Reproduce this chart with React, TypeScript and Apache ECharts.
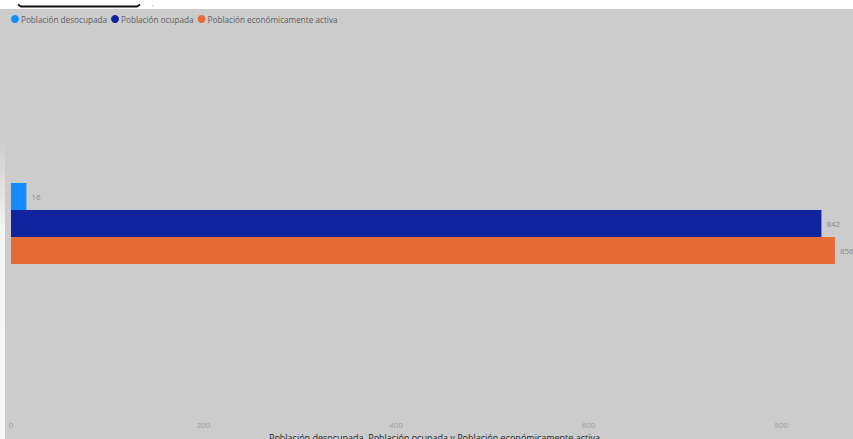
import React, { useEffect, useRef } from "react";
import * as echarts from "echarts";

const categories = ["Total"];
const seriesNames = ["Población desocupada", "Población ocupada", "Población económicamente activa"];
const desocupada = [16];
const ocupada = [842];
const activa = [856];
const seriesColors = ["#118DFF", "#12239E", "#E66C37"];
const xTicks = [0, 200, 400, 600, 800];
const axisTitle = "Población desocupada, Población ocupada y Población económicamente activa";

export default function App() {
  const ref = useRef<HTMLDivElement>(null);
  useEffect(() => {
    document.body.style.margin = "0";
    const chart = echarts.init(ref.current!, undefined, { renderer: "svg" });
    const values = [desocupada, ocupada, activa];
    const font = "'Open Sans', 'Noto Sans', sans-serif";
    chart.setOption({
      animation: false,
      backgroundColor: "transparent",
      textStyle: { fontFamily: font },
      legend: {
        left: 6,
        top: 10,
        icon: "circle",
        itemWidth: 8,
        itemHeight: 8,
        itemGap: 4,
        textStyle: { fontSize: 8.2, color: "#605e5c", fontFamily: font, padding: [0, 0, 0, -3] },
        data: seriesNames,
      },
      grid: {
        left: 11,
        top: 36,
        width: 847,
        height: 375,
        containLabel: false,
        outerBoundsMode: "none",
      },
      xAxis: {
        type: "value",
        min: xTicks[0],
        max: 880,
        interval: 200,
        axisLine: { show: false },
        axisTick: { show: false },
        splitLine: { show: false },
        axisLabel: {
          showMaxLabel: false,
          fontSize: 8,
          color: "#a19f9d",
          margin: 9,
          fontFamily: font,
        },
        name: axisTitle,
        nameLocation: "middle",
        nameGap: 20,
        nameTextStyle: { fontSize: 9, color: "#252423", fontFamily: font },
      },
      yAxis: {
        type: "category",
        data: categories,
        inverse: true,
        axisLine: { show: false },
        axisTick: { show: false },
        axisLabel: { show: false },
        splitLine: { show: false },
      },
      graphic: [
        {
          type: "polyline",
          shape: { points: [[18, 4.5], [21, 6.5], [137, 6.5], [140, 4.5]] },
          style: { stroke: "#111", lineWidth: 2, fill: "none" },
        },
        { type: "circle", shape: { cx: 153, cy: 6, r: 0.6 }, style: { fill: "#999" } },
      ],
      series: seriesNames.map((name, i) => ({
        name,
        type: "bar",
        data: values[i],
        barWidth: 27,
        barGap: "0%",
        itemStyle: { color: seriesColors[i] },
        label: {
          show: true,
          position: "right",
          distance: 5,
          fontSize: 8,
          color: "#8a8886",
          fontFamily: font,
        },
      })),
    });
    return () => chart.dispose();
  }, []);
  return (
    <div style={{ position: "relative", width: 853, height: 439, background: "#ffffff", overflow: "hidden" }}>
      <div style={{ position: "absolute", left: 0, top: 9, width: 853, height: 430, background: "#cccccc" }} />
      <div
        style={{
          position: "absolute",
          left: 0,
          top: 140,
          width: 5,
          height: 299,
          background: "linear-gradient(#cccccc, #f4f4f4 30%, #f6f6f6)",
        }}
      />
      <div ref={ref} style={{ position: "absolute", left: 0, top: 0, width: 853, height: 439 }} />
    </div>
  );
}
